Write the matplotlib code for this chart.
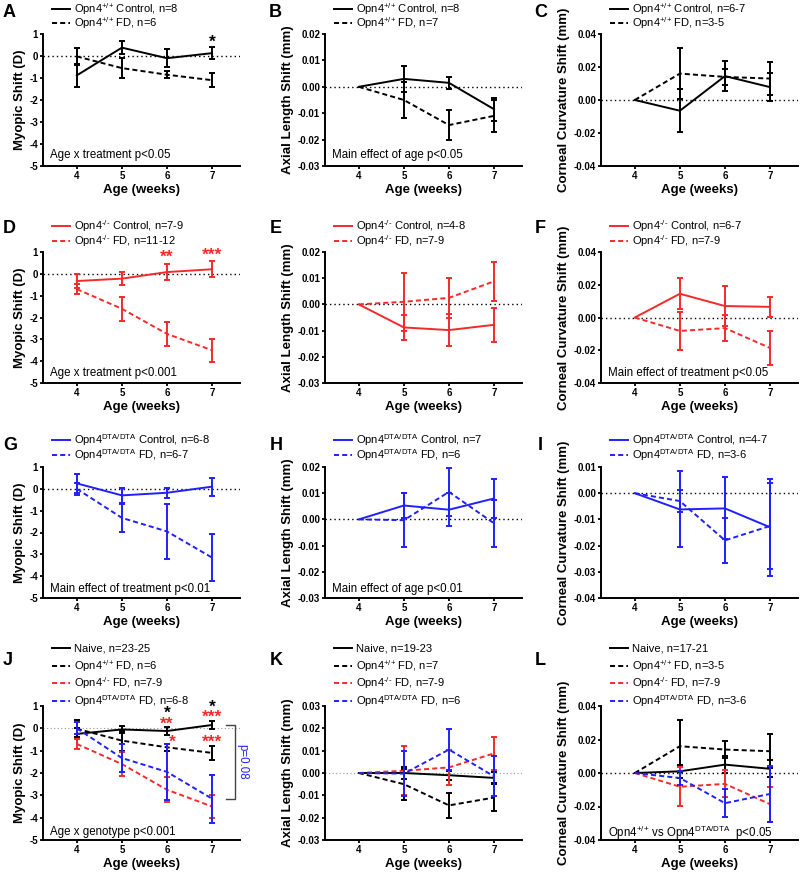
import numpy as np
import matplotlib
matplotlib.use("Agg")
import matplotlib.pyplot as plt
from matplotlib.lines import Line2D

plt.rcParams['font.family'] = ['Liberation Sans', 'DejaVu Sans']
plt.rcParams['mathtext.fontset'] = 'custom'
plt.rcParams['mathtext.rm'] = 'Liberation Sans'
plt.rcParams['mathtext.bf'] = 'Liberation Sans:bold'
plt.rcParams['mathtext.default'] = 'regular'
plt.rcParams['axes.unicode_minus'] = False

RED = '#f42a2a'
BLUE = '#2020ff'
BLACK = 'black'

ages = np.array([4, 5, 6, 7])

# A - Opn4+/+ myopic shift
a_ctrl = [-0.88, 0.38, -0.10, 0.13]
a_ctrl_err = [0.53, 0.30, 0.40, 0.28]
a_fd = [-0.02, -0.55, -0.85, -1.10]
a_fd_err = [0.38, 0.45, 0.17, 0.33]
# B - Opn4+/+ axial length
b_ctrl = [0.0, 0.0030, 0.0015, -0.0085]
b_ctrl_err = [0, 0.0048, 0.0024, 0.0043]
b_fd = [0.0, -0.0050, -0.0145, -0.0110]
b_fd_err = [0, 0.0070, 0.0057, 0.0060]
# C - Opn4+/+ corneal curvature
c_ctrl = [0.0, -0.0065, 0.0145, 0.0078]
c_ctrl_err = [0, 0.0130, 0.0090, 0.0085]
c_fd = [0.0, 0.0160, 0.0140, 0.0130]
c_fd_err = [0, 0.0155, 0.0050, 0.0100]
# D - Opn4-/- myopic shift
d_ctrl = [-0.33, -0.22, 0.08, 0.21]
d_ctrl_err = [0.34, 0.30, 0.37, 0.36]
d_fd = [-0.70, -1.60, -2.75, -3.50]
d_fd_err = [0.22, 0.54, 0.55, 0.53]
# E - Opn4-/- axial length
e_ctrl = [0.0, -0.0088, -0.0098, -0.0078]
e_ctrl_err = [0, 0.0046, 0.0060, 0.0064]
e_fd = [0.0, 0.0010, 0.0025, 0.0088]
e_fd_err = [0, 0.0110, 0.0077, 0.0075]
# F - Opn4-/- corneal curvature
f_ctrl = [0.0, 0.0145, 0.0070, 0.0065]
f_ctrl_err = [0, 0.0095, 0.0120, 0.0060]
f_fd = [0.0, -0.0082, -0.0065, -0.0186]
f_fd_err = [0, 0.0115, 0.0080, 0.0105]
# G - Opn4DTA/DTA myopic shift
g_ctrl = [0.25, -0.30, -0.18, 0.10]
g_ctrl_err = [0.42, 0.33, 0.23, 0.41]
g_fd = [0.0, -1.33, -1.95, -3.15]
g_fd_err = [0.27, 0.63, 1.25, 1.08]
# H - Opn4DTA/DTA axial length
h_ctrl = [0.0, 0.0053, 0.0037, 0.0080]
h_ctrl_err = [0, 0.0048, 0.0062, 0.0076]
h_fd = [0.0, -0.0003, 0.0105, -0.0015]
h_fd_err = [0, 0.0102, 0.0093, 0.0090]
# I - Opn4DTA/DTA corneal curvature
i_ctrl = [0.0, -0.0062, -0.0058, -0.0130]
i_ctrl_err = [0, 0.0145, 0.0118, 0.0186]
i_fd = [0.0, -0.0030, -0.0180, -0.0125]
i_fd_err = [0, 0.0042, 0.0085, 0.0165]
# J/K/L - naive animals
j_naive = [-0.25, -0.05, -0.12, 0.15]
j_naive_err = [0.25, 0.17, 0.20, 0.19]
k_naive = [0.0, 0.0, -0.0010, -0.0022]
k_naive_err = [0, 0.0028, 0.0020, 0.0025]
l_naive = [0.0, 0.0010, 0.0050, 0.0025]
l_naive_err = [0, 0.0040, 0.0050, 0.0050]

WT = r'Opn4$^{\text{+/+}}$'
KO = r'Opn4$^{\text{-/-}}$'
DTA = r'Opn4$^{\text{DTA/DTA}}$'

MYO = dict(ylim=(-5, 1), ticks=np.arange(-5, 2, 1), fmt='{:.0f}', ylabel='Myopic Shift (D)')
AXL = dict(ylim=(-0.03, 0.02), ticks=np.arange(-0.03, 0.021, 0.01), fmt='{:.2f}', ylabel='Axial Length Shift (mm)')
COR = dict(ylim=(-0.04, 0.04), ticks=np.arange(-0.04, 0.041, 0.02), fmt='{:.2f}', ylabel='Corneal Curvature Shift (mm)')

fig = plt.figure(figsize=(8, 8.75), dpi=100)
W, H = 800, 875
col_left = [43, 325, 601]
row_tb = [(34, 166), (252, 383), (467, 598), (706, 840)]
AX_W = 197
DASH = (0, (2.6, 1.6))


def make_ax(r, c):
    top, bot = row_tb[r]
    ax = fig.add_axes([col_left[c] / W, 1 - bot / H, AX_W / W, (bot - top) / H])
    ax.h_px = bot - top
    return ax


def key(ax, series, gap, step):
    # legend above the axes, rows in pixels above the top spine
    n = len(series)
    for k, (mean, err, color, ls, label) in enumerate(series):
        yc = 1 + (gap + (n - 1 - k) * step) / ax.h_px
        ax.add_line(Line2D([9 / AX_W, 27 / AX_W], [yc, yc], transform=ax.transAxes,
                           color=color, lw=1.4, ls='-' if ls == 'solid' else DASH,
                           clip_on=False))
        ax.text(31 / AX_W, yc - 4 / ax.h_px, label, transform=ax.transAxes,
                fontsize=8, va='baseline', ha='left')


def draw(ax, series, spec, note=None, note_y=0.08, gap=11, step=14,
         zero_color='black', zero_lw=1.0):
    ax.axhline(0, color=zero_color, lw=zero_lw, ls=(0, (1, 2.2)), zorder=1)
    for mean, err, color, ls, label in series:
        mean = np.array(mean)
        err = np.array(err)
        ax.plot(ages, mean, color=color, lw=1.4,
                ls='-' if ls == 'solid' else DASH, zorder=3)
        m = err > 0
        ax.errorbar(ages[m], mean[m], yerr=err[m], fmt='none', ecolor=color,
                    elinewidth=1.4, capsize=2.3, capthick=1.4, zorder=3)
    ax.set_xlim(3.25, 7.62)
    ax.set_ylim(*spec['ylim'])
    ax.set_xticks(ages)
    ax.set_xticklabels([str(a) for a in ages], fontsize=7, fontweight='bold')
    ax.set_yticks(spec['ticks'])
    ax.set_yticklabels([spec['fmt'].format(t + 0.0) for t in spec['ticks']],
                       fontsize=7, fontweight='bold')
    for s in ['top', 'right']:
        ax.spines[s].set_visible(False)
    for s in ['left', 'bottom']:
        ax.spines[s].set_linewidth(1.4)
    ax.tick_params(length=2.3, width=1.3, pad=1.2)
    ax.set_xlabel('Age (weeks)', fontsize=9.5, fontweight='bold', labelpad=2.5)
    ax.set_ylabel(spec['ylabel'], fontsize=9.5, fontweight='bold', labelpad=2.5)
    if note:
        ax.text(0.035, note_y, note, transform=ax.transAxes, fontsize=8.3, va='center')
    key(ax, series, gap, step)


def stars(ax, items):
    for x, y, txt, color in items:
        ax.text(x, y, txt, ha='center', va='center', fontsize=12.5, fontweight='bold', color=color)


# Row 1
ax = make_ax(0, 0)
draw(ax, [(a_ctrl, a_ctrl_err, BLACK, 'solid', WT + ' Control, n=8'),
          (a_fd, a_fd_err, BLACK, 'dash', WT + ' FD, n=6')], MYO, 'Age x treatment p<0.05')
stars(ax, [(7, 0.62, '*', BLACK)])
ax = make_ax(0, 1)
draw(ax, [(b_ctrl, b_ctrl_err, BLACK, 'solid', WT + ' Control, n=8'),
          (b_fd, b_fd_err, BLACK, 'dash', WT + ' FD, n=7')], AXL, 'Main effect of age p<0.05')
ax = make_ax(0, 2)
draw(ax, [(c_ctrl, c_ctrl_err, BLACK, 'solid', WT + ' Control, n=6-7'),
          (c_fd, c_fd_err, BLACK, 'dash', WT + ' FD, n=3-5')], COR)

# Row 2
ax = make_ax(1, 0)
draw(ax, [(d_ctrl, d_ctrl_err, RED, 'solid', KO + ' Control, n=7-9'),
          (d_fd, d_fd_err, RED, 'dash', KO + ' FD, n=11-12')], MYO, 'Age x treatment p<0.001',
     note_y=0.076, step=15)
stars(ax, [(6, 0.75, '**', RED), (7, 0.87, '***', RED)])
ax = make_ax(1, 1)
draw(ax, [(e_ctrl, e_ctrl_err, RED, 'solid', KO + ' Control, n=4-8'),
          (e_fd, e_fd_err, RED, 'dash', KO + ' FD, n=7-9')], AXL, step=15)
ax = make_ax(1, 2)
draw(ax, [(f_ctrl, f_ctrl_err, RED, 'solid', KO + ' Control, n=6-7'),
          (f_fd, f_fd_err, RED, 'dash', KO + ' FD, n=7-9')], COR,
     'Main effect of treatment p<0.05', note_y=0.076, step=15)

# Row 3
ax = make_ax(2, 0)
draw(ax, [(g_ctrl, g_ctrl_err, BLUE, 'solid', DTA + ' Control, n=6-8'),
          (g_fd, g_fd_err, BLUE, 'dash', DTA + ' FD, n=6-7')], MYO,
     'Main effect of treatment p<0.01', note_y=0.07, gap=12, step=15)
ax = make_ax(2, 1)
draw(ax, [(h_ctrl, h_ctrl_err, BLUE, 'solid', DTA + ' Control, n=7'),
          (h_fd, h_fd_err, BLUE, 'dash', DTA + ' FD, n=6')], AXL,
     'Main effect of age p<0.01', note_y=0.07, gap=12, step=15)
ax = make_ax(2, 2)
draw(ax, [(i_ctrl, i_ctrl_err, BLUE, 'solid', DTA + ' Control, n=4-7'),
          (i_fd, i_fd_err, BLUE, 'dash', DTA + ' FD, n=3-6')],
     dict(ylim=(-0.04, 0.01), ticks=np.arange(-0.04, 0.011, 0.01), fmt='{:.2f}',
          ylabel='Corneal Curvature Shift (mm)'), gap=12, step=15)

# Row 4
ax = make_ax(3, 0)
draw(ax, [(j_naive, j_naive_err, BLACK, 'solid', 'Naive, n=23-25'),
          (a_fd, a_fd_err, BLACK, 'dash', WT + ' FD, n=6'),
          (d_fd, d_fd_err, RED, 'dash', KO + ' FD, n=7-9'),
          (g_fd, g_fd_err, BLUE, 'dash', DTA + ' FD, n=6-8')], MYO,
     'Age x genotype p<0.001', note_y=0.06, gap=5, step=17.7,
     zero_color='#999999', zero_lw=0.8)
stars(ax, [(6, 0.66, '*', BLACK), (6, 0.2, '**', RED), (6.12, -0.62, '*', RED),
           (7, 0.96, '*', BLACK), (7, 0.5, '***', RED), (7, -0.62, '***', RED)])
top, bot = j_naive[-1], g_fd[-1]
ax.plot([7.32, 7.52, 7.52, 7.32], [top, top, bot, bot], color='#444444', lw=1.0, clip_on=False)
ax.text(7.66, (top + bot) / 2, 'p=0.08', color=BLUE, fontsize=8.3, rotation=-90,
        ha='center', va='center', clip_on=False)

ax = make_ax(3, 1)
draw(ax, [(k_naive, k_naive_err, BLACK, 'solid', 'Naive, n=19-23'),
          (b_fd, b_fd_err, BLACK, 'dash', WT + ' FD, n=7'),
          (e_fd, e_fd_err, RED, 'dash', KO + ' FD, n=7-9'),
          (h_fd, h_fd_err, BLUE, 'dash', DTA + ' FD, n=6')],
     dict(ylim=(-0.03, 0.03), ticks=np.arange(-0.03, 0.031, 0.01), fmt='{:.2f}',
          ylabel='Axial Length Shift (mm)'),
     gap=5, step=17.7, zero_color='#999999', zero_lw=0.8)

ax = make_ax(3, 2)
draw(ax, [(l_naive, l_naive_err, BLACK, 'solid', 'Naive, n=17-21'),
          (c_fd, c_fd_err, BLACK, 'dash', WT + ' FD, n=3-5'),
          (f_fd, f_fd_err, RED, 'dash', KO + ' FD, n=7-9'),
          (i_fd, i_fd_err, BLUE, 'dash', DTA + ' FD, n=3-6')], COR,
     WT + ' vs ' + DTA + '  p<0.05', note_y=0.05, gap=5, step=17.7)

# panel letters
letters = [('A', 3, 4), ('B', 269, 4), ('C', 534, 4),
           ('D', 3, 220), ('E', 270, 220), ('F', 535, 220),
           ('G', 3, 437), ('H', 270, 437), ('I', 538, 437),
           ('J', 3, 652), ('K', 270, 652), ('L', 535, 652)]
for t, x, y in letters:
    fig.text(x / W, 1 - y / H, t, fontsize=13, fontweight='bold', va='top', ha='left')

fig.savefig('out.png', dpi=100)
